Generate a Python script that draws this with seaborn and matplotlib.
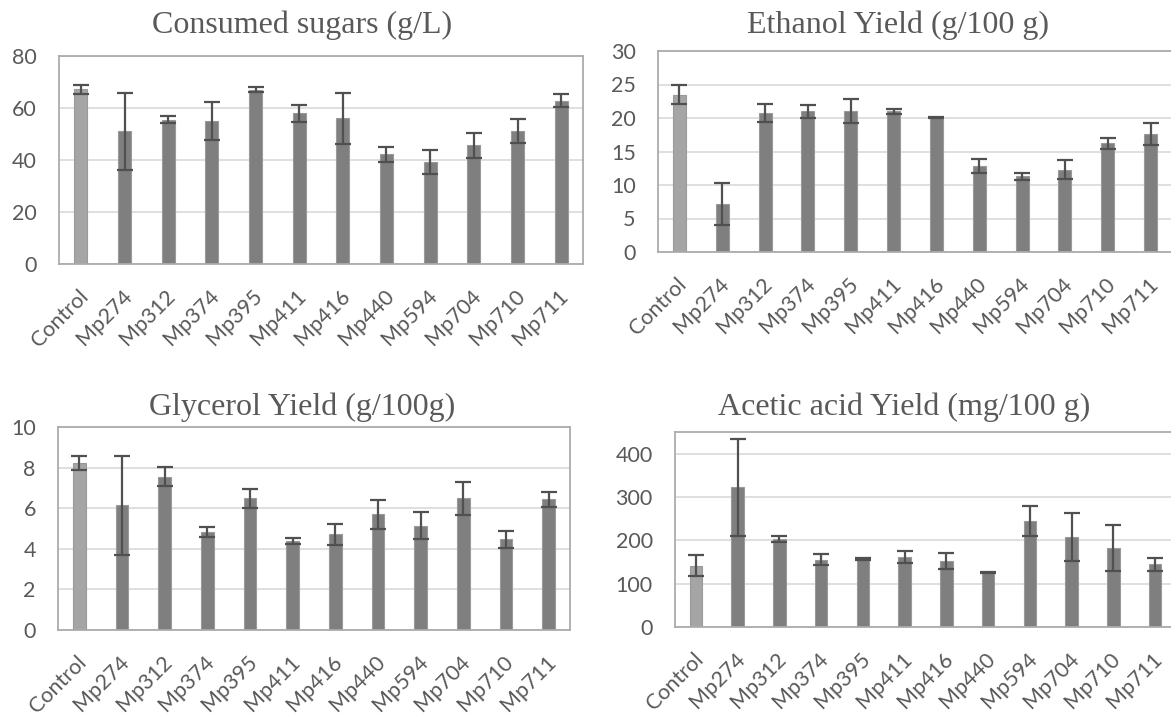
import matplotlib
matplotlib.use("Agg")
import matplotlib.pyplot as plt
import matplotlib.transforms as mtransforms
import seaborn as sns
import pandas as pd

categories = ["Control", "Mp274", "Mp312", "Mp374", "Mp395", "Mp411",
              "Mp416", "Mp440", "Mp594", "Mp704", "Mp710", "Mp711"]

sugars = [67.2, 51.0, 55.5, 55.0, 67.0, 58.0, 56.1, 42.2, 39.4, 45.7, 51.3, 62.8]
sugars_err = [1.7, 14.9, 1.4, 7.4, 1.0, 3.3, 9.8, 2.9, 4.6, 4.8, 4.6, 2.5]

ethanol = [23.5, 7.2, 20.8, 21.0, 21.1, 21.0, 20.1, 12.9, 11.3, 12.3, 16.2, 17.6]
ethanol_err = [1.45, 3.1, 1.35, 1.0, 1.8, 0.35, 0.1, 1.05, 0.5, 1.4, 0.85, 1.65]

glycerol = [8.22, 6.14, 7.56, 4.83, 6.49, 4.38, 4.71, 5.70, 5.14, 6.49, 4.46, 6.44]
glycerol_err = [0.33, 2.45, 0.45, 0.26, 0.46, 0.13, 0.53, 0.72, 0.68, 0.81, 0.40, 0.36]

acetic = [141.5, 322, 203, 155.4, 157, 162.3, 152.3, 125.4, 244.6, 207.7, 182.3, 144.6]
acetic_err = [24, 112, 7, 12, 1.5, 14, 19, 1, 34, 55, 52, 15]

titles = ["Consumed sugars (g/L)", "Ethanol Yield (g/100 g)",
          "Glycerol Yield (g/100g)", "Acetic acid Yield (mg/100 g)"]

sns.set_theme(style="white")
plt.rcParams["font.family"] = ["Lato", "DejaVu Sans"]

W, H = 1171, 715
fig = plt.figure(figsize=(W / 100, H / 100), dpi=100)
fig.patch.set_facecolor("white")

# (left, right, top, bottom) in pixels, ylim max, yticks step, title center (x, y)
panels = [
    (sugars, sugars_err, (59, 583, 56, 264), 80, 20, (302, 25)),
    (ethanol, ethanol_err, (658, 1172, 51, 252), 30, 5, (898, 25)),
    (glycerol, glycerol_err, (58, 570, 427, 630), 10, 2, (302, 407)),
    (acetic, acetic_err, (675, 1176, 432, 627), 450, 100, (904, 407)),
]

palette = ["#A5A5A5"] + ["#7F7F7F"] * 11
text_col = "#595959"
shift = mtransforms.ScaledTranslation(4 / 100, 0, fig.dpi_scale_trans)

for (vals, errs, (l, r, t, b), ymax, step, (tx, ty)), title in zip(panels, titles):
    ax = fig.add_axes([l / W, 1 - b / H, (r - l) / W, (b - t) / H])
    df = pd.DataFrame({"cat": categories, "val": vals})
    sns.barplot(data=df, x="cat", y="val", hue="cat", palette=palette,
                legend=False, width=0.3, ax=ax, edgecolor="#9A9A9A",
                linewidth=0.8, saturation=1, zorder=2)
    ax.errorbar(range(len(categories)), vals, yerr=errs, fmt="none",
                ecolor="#505050", elinewidth=1.6, capsize=5.5, capthick=1.6,
                zorder=3)
    ax.set_xlim(-0.5, len(categories) - 0.5)
    ax.set_ylim(0, ymax)
    ax.set_yticks(list(range(0, ymax + 1, step)))
    ax.yaxis.grid(True, color="#D9D9D9", linewidth=1.2, zorder=0)
    ax.set_axisbelow(True)
    ax.set_xlabel("")
    ax.set_ylabel("")
    for s in ax.spines.values():
        s.set_color("#ABABAB")
        s.set_linewidth(1.3)
    ax.tick_params(axis="both", length=0, labelsize=15.5, labelcolor=text_col)
    ax.tick_params(axis="y", pad=16)
    ax.tick_params(axis="x", pad=21)
    ax.set_xticks(range(len(categories)))
    ax.set_xticklabels(categories, rotation=45, ha="right",
                       rotation_mode="anchor", va="center")
    for lab in ax.get_xticklabels():
        lab.set_transform(lab.get_transform() + shift)
    fig.text(tx / W, 1 - ty / H, title, ha="center", va="center",
             fontsize=23, color=text_col, family="Liberation Serif")

fig.savefig("out.png", dpi=100)
